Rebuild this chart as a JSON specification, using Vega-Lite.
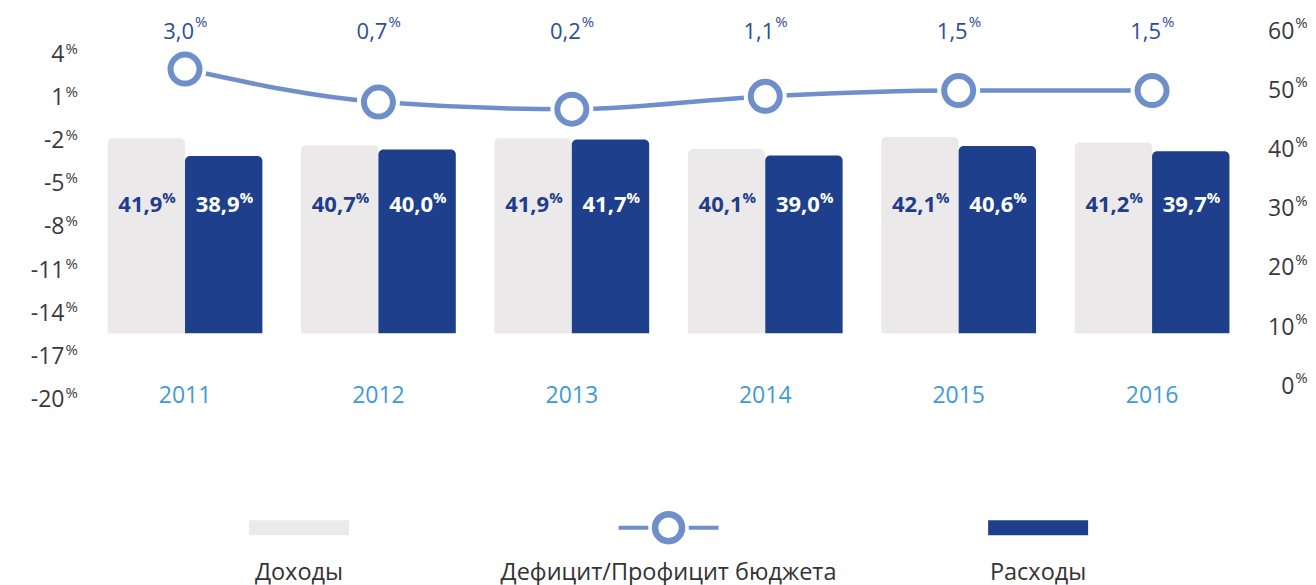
{
  "$schema": "https://vega.github.io/schema/vega-lite/v6.json",
  "autosize": {"type": "pad"},
  "padding": {"left": 29.3, "top": 14.2, "right": 0, "bottom": 8},
  "background": "white",
  "config": {
    "font": "Open Sans",
    "view": {"stroke": null},
    "locale": {"number": {"decimal": ",", "thousands": "\u00a0", "grouping": [3], "currency": ["", ""], "minus": "-"}}
  },
  "datasets": {
    "bars": [
      {"year": "2011", "kind": "Доходы", "value": 41.9},
      {"year": "2011", "kind": "Расходы", "value": 38.9},
      {"year": "2012", "kind": "Доходы", "value": 40.7},
      {"year": "2012", "kind": "Расходы", "value": 40.0},
      {"year": "2013", "kind": "Доходы", "value": 41.9},
      {"year": "2013", "kind": "Расходы", "value": 41.7},
      {"year": "2014", "kind": "Доходы", "value": 40.1},
      {"year": "2014", "kind": "Расходы", "value": 39.0},
      {"year": "2015", "kind": "Доходы", "value": 42.1},
      {"year": "2015", "kind": "Расходы", "value": 40.6},
      {"year": "2016", "kind": "Доходы", "value": 41.2},
      {"year": "2016", "kind": "Расходы", "value": 39.7}
    ],
    "balance": [
      {"year": "2011", "value": 3.0},
      {"year": "2012", "value": 0.7},
      {"year": "2013", "value": 0.2},
      {"year": "2014", "value": 1.1},
      {"year": "2015", "value": 1.5},
      {"year": "2016", "value": 1.5}
    ],
    "legend": [
      {"label": "Доходы"},
      {"label": "Дефицит/Профицит бюджета"},
      {"label": "Расходы"}
    ]
  },
  "bounds": "flush",
  "spacing": 112.5,
  "resolve": {"scale": {"color": "independent", "fill": "independent", "shape": "independent"}},
  "vconcat": [
    {
      "width": 1160.5,
      "height": 380,
      "resolve": {"scale": {"y": "independent"}},
      "layer": [
        {
          "data": {"name": "bars"},
          "encoding": {
            "x": {
              "field": "year", "type": "nominal",
              "scale": {"paddingInner": 0.2, "paddingOuter": 0.1},
              "axis": {"orient": "bottom", "title": null, "domain": false, "ticks": false, "tickSize": 0, "labelAngle": 0,
                       "labelFontSize": 23, "labelColor": "#3d9bd7", "labelPadding": -4.5, "labelBaseline": "middle"}
            },
            "xOffset": {"field": "kind", "type": "nominal", "scale": {"domain": ["Доходы", "Расходы"], "paddingInner": 0, "paddingOuter": 0}}
          },
          "layer": [
            {
              "mark": {"type": "bar", "cornerRadiusTopLeft": 5, "cornerRadiusTopRight": 5},
              "encoding": {
                "y": {
                  "field": "value", "type": "quantitative",
                  "scale": {"domain": [-2.366, 61.859], "nice": false, "zero": false},
                  "axis": {"orient": "right", "title": null, "values": [0, 10, 20, 30, 40, 50, 60], "format": "d",
                           "domain": false, "ticks": false, "tickSize": 0, "grid": false,
                           "labelAlign": "right", "labelBaseline": "middle", "labelPadding": 45,
                           "labelFontSize": 23, "labelColor": "#3a3a3a", "labelOverlap": false, "labelFlush": false, "labelBound": false}
                },
                "y2": {"datum": 8.96},
                "color": {"field": "kind", "type": "nominal", "scale": {"domain": ["Доходы", "Расходы"], "range": ["#ebe9ea", "#1d3f8c"]}, "legend": null}
              }
            },
            {
              "mark": {"type": "text", "align": "right", "baseline": "middle", "dx": 16, "fontSize": 22, "fontWeight": "bold"},
              "encoding": {
                "y": {"datum": 30.67, "type": "quantitative"},
                "text": {"field": "value", "type": "quantitative", "format": ".1f"},
                "color": {"condition": {"test": "datum.kind === 'Доходы'", "value": "#1f3d8b"}, "value": "#ffffff"}
              }
            },
            {
              "mark": {"type": "text", "align": "left", "baseline": "middle", "dx": 16, "dy": -7, "fontSize": 15, "fontWeight": "bold"},
              "encoding": {
                "y": {"datum": 30.67, "type": "quantitative"},
                "text": {"value": "%"},
                "color": {"condition": {"test": "datum.kind === 'Доходы'", "value": "#1f3d8b"}, "value": "#ffffff"}
              }
            }
          ]
        },
        {
          "data": {"name": "bars"},
          "mark": {"type": "point", "opacity": 0},
          "encoding": {
            "y": {
              "field": "value", "type": "quantitative",
              "scale": {"domain": [-2.366, 61.859], "nice": false, "zero": false},
              "axis": {"orient": "right", "title": null, "values": [0, 10, 20, 30, 40, 50, 60], "labelExpr": "'%'",
                       "domain": false, "ticks": false, "tickSize": 0, "grid": false,
                       "labelAlign": "left", "labelBaseline": "middle", "labelPadding": 46, "labelOffset": -8.5,
                       "labelFontSize": 15, "labelColor": "#3a3a3a", "labelOverlap": false, "labelFlush": false, "labelBound": false}
            }
          }
        },
        {
          "data": {"name": "balance"},
          "encoding": {"x": {"field": "year", "type": "nominal"}},
          "layer": [
            {
              "mark": {"type": "line", "color": "#6f8fcb", "strokeWidth": 4.5, "interpolate": "monotone"},
              "encoding": {
                "y": {
                  "field": "value", "type": "quantitative",
                  "scale": {"domain": [-20.07, 6.403], "nice": false, "zero": false},
                  "axis": {"orient": "left", "title": null, "values": [4, 1, -2, -5, -8, -11, -14, -17, -20], "format": "d",
                           "domain": false, "ticks": false, "tickSize": 0, "grid": false,
                           "labelAlign": "right", "labelBaseline": "middle", "labelPadding": 24.3,
                           "labelFontSize": 23, "labelColor": "#3a3a3a", "labelOverlap": false, "labelFlush": false, "labelBound": false}
                }
              }
            },
            {
              "mark": {"type": "point", "shape": "circle", "filled": true, "color": "#ffffff", "opacity": 1, "size": 1849},
              "encoding": {"y": {"field": "value", "type": "quantitative"}}
            },
            {
              "mark": {"type": "point", "shape": "circle", "filled": false, "fill": "#ffffff", "stroke": "#6f8fcb", "strokeWidth": 6, "opacity": 1, "size": 841},
              "encoding": {"y": {"field": "value", "type": "quantitative"}}
            },
            {
              "mark": {"type": "text", "align": "right", "baseline": "middle", "dx": 9, "fontSize": 22, "color": "#2d4c9c"},
              "encoding": {
                "y": {"datum": 5.612, "type": "quantitative"},
                "text": {"field": "value", "type": "quantitative", "format": ".1f"}
              }
            },
            {
              "mark": {"type": "text", "align": "left", "baseline": "middle", "dx": 10, "dy": -10, "fontSize": 15, "color": "#2d4c9c"},
              "encoding": {
                "y": {"datum": 5.612, "type": "quantitative"},
                "text": {"value": "%"}
              }
            }
          ]
        },
        {
          "data": {"name": "balance"},
          "mark": {"type": "point", "opacity": 0},
          "encoding": {
            "y": {
              "field": "value", "type": "quantitative",
              "scale": {"domain": [-20.07, 6.403], "nice": false, "zero": false},
              "axis": {"orient": "left", "title": null, "values": [4, 1, -2, -5, -8, -11, -14, -17, -20], "labelExpr": "'%'",
                       "domain": false, "ticks": false, "tickSize": 0, "grid": false,
                       "labelAlign": "left", "labelBaseline": "middle", "labelPadding": 23.3, "labelOffset": -6.5,
                       "labelFontSize": 15, "labelColor": "#3a3a3a", "labelOverlap": false, "labelFlush": false, "labelBound": false}
            }
          }
        }
      ]
    },
    {
      "width": 1160.5,
      "height": 30,
      "data": {"name": "legend"},
      "encoding": {
        "x": {"field": "label", "type": "nominal", "sort": null, "scale": {"type": "point", "padding": 0.57}, "axis": null}
      },
      "layer": [
        {
          "mark": {"type": "point", "filled": true, "opacity": 1, "size": 10000, "strokeWidth": 0},
          "encoding": {
            "shape": {"field": "label", "type": "nominal",
                      "scale": {"domain": ["Доходы", "Дефицит/Профицит бюджета", "Расходы"],
                                "range": ["M-1,-0.15H1V0.15H-1Z", "M-1,-0.04H1V0.04H-1Z", "M-1,-0.15H1V0.15H-1Z"]},
                      "legend": null},
            "fill": {"field": "label", "type": "nominal",
                     "scale": {"domain": ["Доходы", "Дефицит/Профицит бюджета", "Расходы"], "range": ["#ebe9ea", "#6f8fcb", "#1d3f8c"]},
                     "legend": null}
          }
        },
        {
          "transform": [{"filter": "datum.label === 'Дефицит/Профицит бюджета'"}],
          "mark": {"type": "point", "shape": "circle", "filled": true, "color": "#ffffff", "opacity": 1, "size": 1650}
        },
        {
          "transform": [{"filter": "datum.label === 'Дефицит/Профицит бюджета'"}],
          "mark": {"type": "point", "shape": "circle", "filled": false, "fill": "#ffffff", "stroke": "#6f8fcb", "strokeWidth": 6.5, "opacity": 1, "size": 729}
        },
        {
          "mark": {"type": "text", "baseline": "middle", "dy": 45.5, "fontSize": 23.5, "color": "#333333"},
          "encoding": {"text": {"field": "label", "type": "nominal"}}
        }
      ]
    }
  ]
}
